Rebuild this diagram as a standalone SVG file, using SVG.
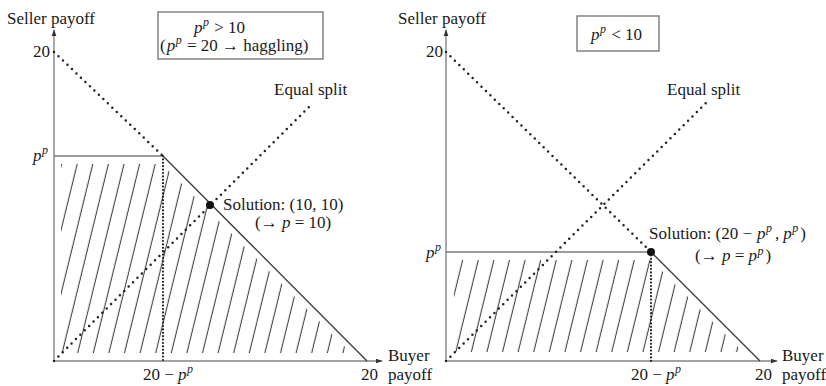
<svg xmlns="http://www.w3.org/2000/svg" width="826" height="386" viewBox="0 0 826 386">
<style>
  text { font-family: "Liberation Serif", "DejaVu Serif", serif; font-size: 17px; fill: #1a1a1a; }
  .it { font-style: italic; }
  .sup { font-style: italic; font-size: 12px; }
  .axis { stroke: #858585; stroke-width: 1.4; fill: none; }
  .bound { stroke: #7a7a7a; stroke-width: 1.3; fill: none; }
  .diag { stroke: #3a3a3a; stroke-width: 1.3; fill: none; }
  .dots { stroke: #222; stroke-width: 2.5; stroke-linecap: round; stroke-dasharray: 0 6.2; fill: none; }
  .vdots { stroke: #222; stroke-width: 2.2; stroke-linecap: round; stroke-dasharray: 0 3.4; fill: none; }
  .box { stroke: #7a7a7a; stroke-width: 1.4; fill: #fff; }
  .pt { fill: #111; }
</style>
<defs>
  <marker id="arr" viewBox="0 0 10 10" refX="9" refY="5" markerWidth="7" markerHeight="7" markerUnits="userSpaceOnUse" orient="auto">
    <path d="M0,1.5 L10,5 L0,8.5 Z" fill="#333"/>
  </marker>
  <pattern id="hatchL" width="15.6" height="400" patternUnits="userSpaceOnUse" patternTransform="skewX(-13.77)">
    <line x1="8.2" y1="-5" x2="8.2" y2="405" stroke="#3c3c3c" stroke-width="1.1"/>
  </pattern>
  <pattern id="hatchR" width="15.6" height="400" patternUnits="userSpaceOnUse" patternTransform="translate(3.4,0) skewX(-13.77)">
    <line x1="8.2" y1="-5" x2="8.2" y2="405" stroke="#3c3c3c" stroke-width="1.1"/>
  </pattern>
</defs>

<!-- Left panel -->
<g id="left-panel">
  <g id="left-hatch">
    <polygon points="61,164 162,164 351,353 61,353" fill="url(#hatchL)"/>
  </g>
  <g id="left-connectors">
    <line class="axis" x1="54" y1="361" x2="54" y2="30" marker-end="url(#arr)"/>
    <line class="axis" x1="54" y1="361" x2="382" y2="361" marker-end="url(#arr)"/>
    <line class="bound" x1="54" y1="156" x2="163" y2="156"/>
    <line class="diag" x1="163" y1="156" x2="367" y2="361"/>
    <line class="dots" x1="54" y1="52" x2="163" y2="156"/>
    <line class="dots" x1="54" y1="361" x2="313" y2="103"/>
    <line class="vdots" x1="163" y1="156" x2="163" y2="361"/>
  </g>
  <g id="left-solution">
    <circle class="pt" cx="210" cy="205" r="4"/>
    <text x="223" y="210">Solution: (10, 10)</text>
    <text x="255" y="228">(→ <tspan class="it">p</tspan> = 10)</text>
  </g>
  <g id="left-box">
    <rect class="box" x="158" y="12" width="165" height="47"/>
    <text x="194" y="33"><tspan class="it">p</tspan><tspan class="sup" dx="0.5" dy="-7">p</tspan><tspan dx="1" dy="7"> &gt; 10</tspan></text>
    <text x="160" y="51">(<tspan class="it" dx="1">p</tspan><tspan class="sup" dx="0.5" dy="-7">p</tspan><tspan dx="1" dy="7"> = 20 → haggling)</tspan></text>
  </g>
  <g id="left-labels">
    <text x="7" y="24">Seller payoff</text>
    <text x="33" y="57">20</text>
    <text x="33" y="161"><tspan class="it">p</tspan><tspan class="sup" dx="0.5" dy="-7">p</tspan></text>
    <text x="274" y="95">Equal split</text>
    <text x="143" y="380">20 − <tspan class="it">p</tspan><tspan class="sup" dx="0.5" dy="-7">p</tspan></text>
    <text x="361" y="380">20</text>
    <text x="388" y="361">Buyer</text>
    <text x="388" y="380">payoff</text>
  </g>
</g>

<!-- Right panel -->
<g id="right-panel">
  <g id="right-hatch">
    <polygon points="454,260 651,260 743,352 454,352" fill="url(#hatchR)"/>
  </g>
  <g id="right-connectors">
    <line class="axis" x1="446" y1="361" x2="446" y2="30" marker-end="url(#arr)"/>
    <line class="axis" x1="446" y1="361" x2="777" y2="361" marker-end="url(#arr)"/>
    <line class="bound" x1="446" y1="252" x2="651" y2="252"/>
    <line class="diag" x1="651" y1="252" x2="760" y2="361"/>
    <line class="dots" x1="446" y1="52" x2="651" y2="252"/>
    <line class="dots" x1="446" y1="361" x2="706" y2="103"/>
    <line class="vdots" x1="651" y1="252" x2="651" y2="361"/>
  </g>
  <g id="right-solution">
    <circle class="pt" cx="651" cy="252" r="4"/>
    <text x="649" y="239">Solution: (20 −<tspan class="it" dx="5">p</tspan><tspan class="sup" dx="0.5" dy="-7">p</tspan><tspan dx="3" dy="7">,</tspan><tspan class="it" dx="4">p</tspan><tspan class="sup" dx="0.5" dy="-7">p</tspan><tspan dx="2" dy="7">)</tspan></text>
    <text x="695" y="261">(→ <tspan class="it">p</tspan> = <tspan class="it">p</tspan><tspan class="sup" dx="0.5" dy="-6">p</tspan><tspan dx="2" dy="6">)</tspan></text>
  </g>
  <g id="right-box">
    <rect class="box" x="577" y="16" width="82" height="35"/>
    <text x="591" y="40"><tspan class="it">p</tspan><tspan class="sup" dx="0.5" dy="-7">p</tspan><tspan dx="1" dy="7"> &lt; 10</tspan></text>
  </g>
  <g id="right-labels">
    <text x="398" y="24">Seller payoff</text>
    <text x="426" y="57">20</text>
    <text x="426" y="258"><tspan class="it">p</tspan><tspan class="sup" dx="0.5" dy="-7">p</tspan></text>
    <text x="667" y="95">Equal split</text>
    <text x="631" y="380">20 − <tspan class="it">p</tspan><tspan class="sup" dx="0.5" dy="-7">p</tspan></text>
    <text x="755" y="380">20</text>
    <text x="782" y="361">Buyer</text>
    <text x="782" y="380">payoff</text>
  </g>
</g>
</svg>
